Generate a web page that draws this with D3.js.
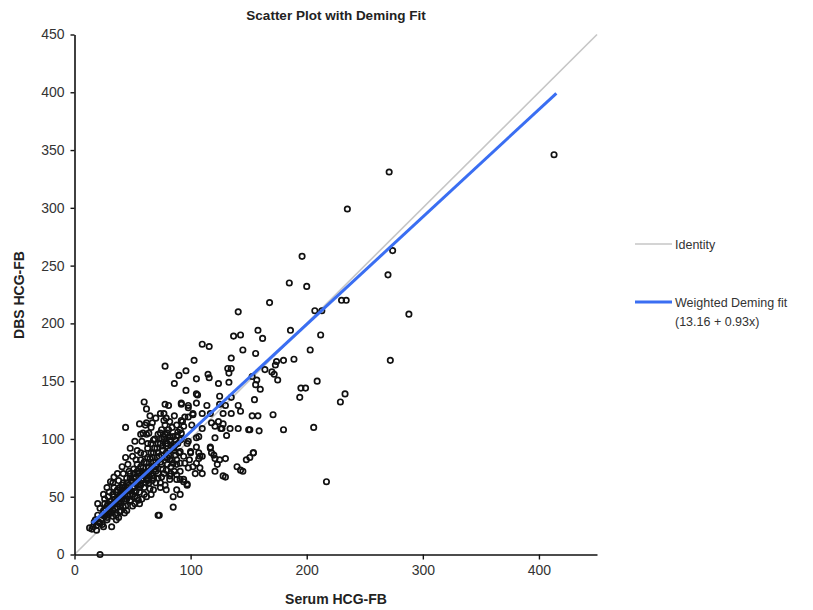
<!DOCTYPE html>
<html>
<head>
<meta charset="utf-8">
<script src="https://cdn.jsdelivr.net/npm/d3@7"></script>
<style>
  body { margin: 0; background: #fff; font-family: "Liberation Sans", Arial, sans-serif; }
</style>
</head>
<body>
<svg id="chart"></svg>
<script>
// Serum vs DBS HCG-FB as [serum, dbs]
const outerPoints = [
  [413,346],[271,331],[235,299],[196,258],[274,263],[270,242],[185,235],[200,232],[168,218],[230,220],
  [234,220],[207,211],[213,211],[288,208],[141,210],[186,194],[162,187],[212,190],[203,177],[272,168],
  [180,168],[174,167],[173,164],[189,169],[164,160],[170,158],[172,156],[175,151],[209,150],[195,144],
  [199,144],[194,136],[233,139],[229,132],[158,194],[156,174],[153,154],[157,151],[156,147],[160,143],
  [155,134],[153,120],[158,120],[171,121],[151,108],[159,107],[180,108],[206,110],[154,88],[151,84],
  [217,63],[137,189],[143,190],[110,182],[116,180],[145,177],[135,170],[103,168],[78,163],[96,159],
  [90,155],[86,148],[132,161],[135,161],[133,157],[115,156],[116,153],[105,152],[124,148],[133,149],
  [96,142],[105,139],[106,138],[125,137],[135,136],[22,0]
];

const midPoints = [
  [60,132],[62,126],[78,130],[81,129],[77,122],[79,118],[92,130],[98,127],[56,113],[62,114],
  [67,114],[44,110],[59,105],[64,105],[77,116],[82,115],[88,112],[94,111],[98,119],[102,122],
  [92,131],[98,129],[105,131],[114,129],[125,130],[130,129],[141,129],[143,124],[135,122],[128,122],
  [95,119],[102,121],[110,122],[117,122],[92,116],[101,112],[110,109],[118,114],[124,115],[121,111],
  [128,113],[134,109],[141,109],[150,108],[127,109],[126,109],[131,103],[121,101],[82,102],[87,99],
  [91,99],[98,98],[105,101],[117,93],[118,88],[121,83],[125,82],[130,83],[121,72],[128,68],
  [140,76],[143,73],[145,72],[148,82],[154,88],[130,67],[123,78],[117,92],[120,86],[100,88],
  [107,88],[110,85],[107,83],[95,79],[98,75],[102,76],[108,75],[104,70],[110,70],[88,78],
  [91,72],[88,69],[94,65],[97,60],[91,65],[88,56],[91,52],[72,34],[85,41],[97,61],
  [83,70],[74,105],[77,102],[79,96],[82,99],[88,103],[92,105],[85,93],[91,89],[97,96],
  [100,89],[94,85],[105,93],[107,102],[108,85],[105,79],[99,82],[91,79],[85,79],[82,82],
  [79,73],[75,67],[82,65],[88,65],[94,63],[85,50],[79,56],[74,62],[68,56],[62,50],
  [56,44],[54,49],[48,47],[42,41],[39,37],[31,36],[36,30],[28,30],[25,24],[19,21],
  [22,27],[32,24],[33,33],[68,99],[73,34]
];

const corePoints = [
  [13,23],[16,24],[18,30],[20,34],[23,31],[25,38],[27,35],[28,42],[30,40],[31,46],
  [33,38],[34,50],[35,44],[36,54],[37,41],[38,48],[39,58],[40,45],[41,52],[42,62],
  [43,48],[44,56],[45,66],[46,51],[47,60],[48,70],[49,55],[50,63],[51,74],[52,58],
  [53,67],[54,78],[55,61],[56,71],[57,82],[58,64],[59,75],[60,87],[61,68],[62,79],
  [63,92],[64,72],[65,83],[66,96],[67,76],[68,88],[69,100],[70,80],[71,92],[72,104],
  [73,85],[74,96],[75,108],[76,90],[77,100],[78,112],[79,94],[80,105],[81,86],[83,98],
  [84,110],[85,92],[86,120],[87,95],[89,106],[90,88],[92,100],[93,115],[28,32],[32,36],
  [26,44],[29,50],[34,58],[38,64],[42,70],[36,34],[40,38],[44,42],[48,46],[52,50],
  [56,54],[60,58],[64,62],[68,66],[72,70],[76,74],[80,78],[84,82],[46,78],[50,85],
  [54,90],[58,98],[62,104],[66,110],[70,118],[74,122],[45,38],[50,42],[55,47],[60,52],
  [65,57],[70,62],[24,26],[21,28],[19,25],[15,22],[17,28],[22,40],[26,48],[30,54],
  [33,62],[37,70],[41,76],[44,84],[48,92],[52,98],[57,104],[61,112],[65,120],[38,32],
  [43,36],[52,44],[58,48],[66,52],[74,58],[78,60],[82,68],[86,72],[20,44],[31,63],
  [34,67],[28,58],[25,52],[47,72],[53,82],[57,88],[63,96],[67,84],[71,78],[75,86],
  [79,88],[58,72],[62,70],[66,74],[70,72],[49,64],[45,58],[41,60],[37,56],[33,52],
  [29,44],[35,48],[39,52],[43,54],[51,66],[55,70],[59,66],[63,64],[67,68],[71,84],
  [24,34],[27,39],[30,36],[32,43],[35,40],[38,44],[40,50],[43,46],[46,55],[48,52],
  [50,58],[53,55],[55,64],[57,60],[60,68],[62,65],[64,76],[66,70],[68,80],[70,76],
  [72,88],[74,80],[76,94],[78,84],[80,96],[82,90],[85,102],[87,86],[89,96],[91,108],
  [36,46],[39,42],[42,52],[45,48],[47,56],[50,52],[53,62],[56,58],[59,70],[61,62],
  [64,68],[67,64],[69,74],[72,66],[75,78],[77,70],[80,84],[83,76],[86,90],[88,82],
  [26,33],[29,37],[31,41],[34,45],[37,49],[40,55],[42,58],[45,62],[48,66],[51,70],
  [54,72],[57,76],[60,80],[63,84],[66,88],[69,92],[72,96],[75,100],[78,104],[81,108]
];

const xTicks = [0, 100, 200, 300, 400];
const yTicks = [0, 50, 100, 150, 200, 250, 300, 350, 400, 450];
const fitIntercept = 13.16;
const fitSlope = 0.93;
const fitRange = [15, 415];
const legendItems = [
  { label: ['Identity'], color: '#c6c6c6', width: 1.6 },
  { label: ['Weighted Deming fit', '(13.16 + 0.93x)'], color: '#3a6ef2', width: 3 }
];

const W = 813, H = 610;
const margin = { top: 34.5, left: 74.5 };
const plotW = 522.5, plotH = 520;

const svg = d3.select('#chart').attr('width', W).attr('height', H);
const g = svg.append('g').attr('transform', `translate(${margin.left},${margin.top})`);

const x = d3.scaleLinear().domain([0, 450]).range([0, plotW]);
const y = d3.scaleLinear().domain([0, 450]).range([plotH, 0]);

// Title
svg.append('text')
  .attr('x', 336).attr('y', 20)
  .attr('text-anchor', 'middle')
  .attr('font-size', '13.5px').attr('font-weight', 'bold').attr('fill', '#222')
  .text('Scatter Plot with Deming Fit');

// Identity line
g.append('line')
  .attr('x1', x(0)).attr('y1', y(0)).attr('x2', x(450)).attr('y2', y(450))
  .attr('stroke', '#c6c6c6').attr('stroke-width', 1.6);

// Points
const allPoints = corePoints.concat(midPoints, outerPoints);
g.append('g').selectAll('circle')
  .data(allPoints)
  .enter().append('circle')
  .attr('cx', d => x(d[0])).attr('cy', d => y(d[1]))
  .attr('r', 2.7)
  .attr('fill', 'none').attr('stroke', '#111').attr('stroke-width', 1.7);

// Deming fit
g.append('line')
  .attr('x1', x(fitRange[0])).attr('y1', y(fitIntercept + fitSlope * fitRange[0]))
  .attr('x2', x(fitRange[1])).attr('y2', y(fitIntercept + fitSlope * fitRange[1]))
  .attr('stroke', '#3a6ef2').attr('stroke-width', 3);

// Axes
const xAxis = g.append('g').attr('transform', `translate(0,${plotH})`)
  .call(d3.axisBottom(x).tickValues(xTicks).tickSize(5).tickSizeOuter(0).tickPadding(6));
const yAxis = g.append('g')
  .call(d3.axisLeft(y).tickValues(yTicks).tickSize(4).tickSizeOuter(0).tickPadding(6));
[xAxis, yAxis].forEach(a => {
  a.select('.domain').attr('stroke', '#111').attr('stroke-width', 1.6);
  a.selectAll('.tick line').attr('stroke', '#111').attr('stroke-width', 1.4);
  a.selectAll('.tick text').attr('font-size', '14px').attr('fill', '#333')
    .attr('font-family', '"Liberation Sans", Arial, sans-serif');
});

// Axis titles
svg.append('text')
  .attr('x', 336).attr('y', 604)
  .attr('text-anchor', 'middle')
  .attr('font-size', '14px').attr('font-weight', 'bold').attr('fill', '#222')
  .text('Serum HCG-FB');
svg.append('text')
  .attr('transform', 'translate(24,295) rotate(-90)')
  .attr('text-anchor', 'middle')
  .attr('font-size', '14px').attr('font-weight', 'bold').attr('fill', '#222')
  .text('DBS HCG-FB');

// Legend
const legend = svg.append('g').attr('transform', 'translate(635,244)');
legendItems.forEach((item, i) => {
  const row = legend.append('g').attr('transform', `translate(0,${i * 58})`);
  row.append('line').attr('x1', 0).attr('x2', 37).attr('y1', 0).attr('y2', 0)
    .attr('stroke', item.color).attr('stroke-width', item.width);
  item.label.forEach((t, j) => {
    row.append('text').attr('x', 40).attr('y', 4.5 + j * 19)
      .attr('font-size', '12.5px').attr('fill', '#333').text(t);
  });
});
</script>
</body>
</html>
